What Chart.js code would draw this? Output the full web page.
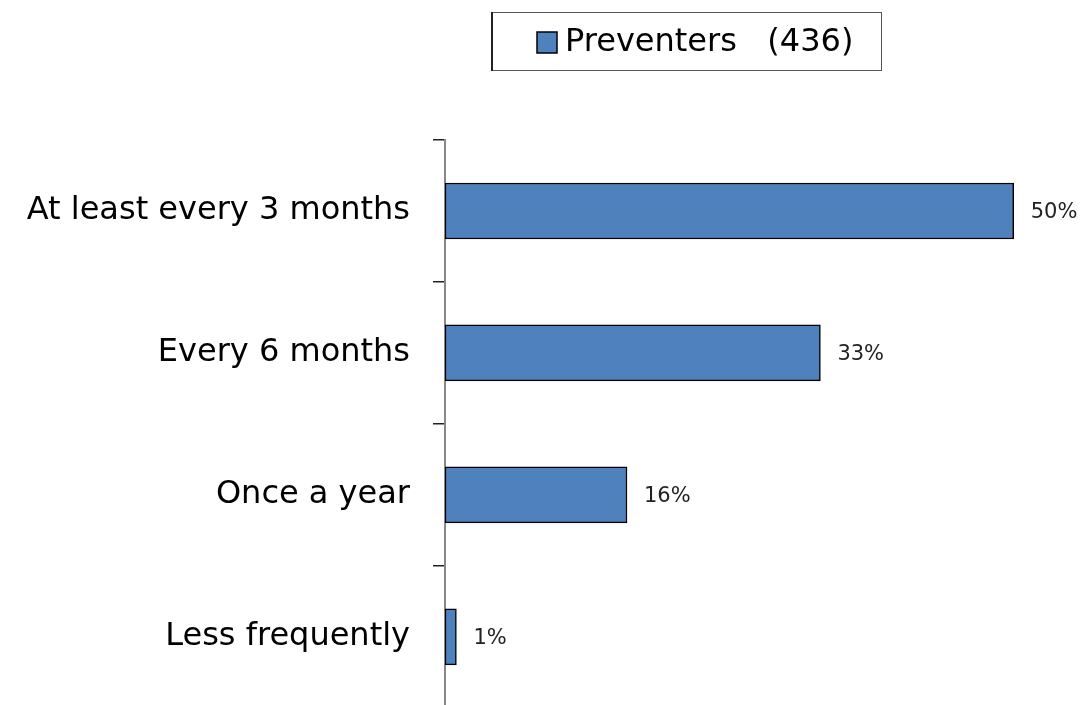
<!DOCTYPE html>
<html>
<head>
<meta charset="utf-8">
<style>
html,body{margin:0;padding:0;background:#fff;overflow:hidden;}
#wrap{width:1082px;height:705px;position:relative;overflow:hidden;}
</style>
<script src="https://cdn.jsdelivr.net/npm/chart.js@4"></script>
</head>
<body>
<div id="wrap"><canvas id="c" width="1082" height="750"></canvas></div>
<script>
const categories = ["At least every 3 months", "Every 6 months", "Once a year", "Less frequently"];
const seriesName = "Preventers   (436)";
const values = [50, 33, 16, 1];
const valueLabels = ["50%", "33%", "16%", "1%"];

const FONT = "'DejaVu Sans', sans-serif";
const BAR_COLOR = "#4F81BD";

const valueLabelPlugin = {
  id: 'valueLabels',
  afterDatasetsDraw(chart) {
    const ctx = chart.ctx;
    const meta = chart.getDatasetMeta(0);
    ctx.save();
    ctx.font = "21px " + FONT;
    ctx.fillStyle = "#222";
    ctx.textAlign = "left";
    ctx.textBaseline = "middle";
    meta.data.forEach((bar, i) => {
      ctx.fillText(valueLabels[i], bar.x + 17, bar.y + 2);
    });
    ctx.restore();
  }
};

const legendBoxPlugin = {
  id: 'legendBox',
  afterDraw(chart) {
    const ctx = chart.ctx;
    const ds = chart.data.datasets[0];
    ctx.save();
    ctx.fillStyle = "#fff";
    ctx.fillRect(491, 12, 391, 59);
    ctx.strokeStyle = "#555";
    ctx.lineWidth = 1;
    ctx.strokeRect(491.5, 12.5, 390, 58);
    ctx.fillStyle = "#222";
    ctx.fillRect(491, 12, 2, 59);
    ctx.fillStyle = ds.backgroundColor;
    ctx.fillRect(537, 32, 20, 21);
    ctx.strokeStyle = "#000";
    ctx.lineWidth = 1.5;
    ctx.strokeRect(537, 32, 20, 21);
    ctx.fillStyle = "#000";
    ctx.font = "32px " + FONT;
    ctx.textAlign = "left";
    ctx.textBaseline = "middle";
    ctx.fillText(ds.label, 565, 43);
    ctx.restore();
  }
};

new Chart(document.getElementById('c'), {
  type: 'bar',
  data: {
    labels: categories,
    datasets: [{
      label: seriesName,
      data: values,
      backgroundColor: BAR_COLOR,
      borderColor: "#000",
      borderWidth: 1.5,
      borderSkipped: false,
      barThickness: 56
    }]
  },
  options: {
    indexAxis: 'y',
    responsive: false,
    animation: false,
    layout: { padding: { top: 140, right: 0, bottom: 0, left: 0 } },
    plugins: {
      legend: { display: false },
      tooltip: { enabled: false }
    },
    scales: {
      x: {
        display: false,
        min: 0,
        max: 56
      },
      y: {
        afterFit(scale) { scale.width = 445; },
        border: { display: true, color: "#888", width: 2 },
        grid: {
          display: true,
          drawOnChartArea: false,
          drawTicks: true,
          tickLength: 12,
          color: "#222",
          lineWidth: 1.5,
          offset: true
        },
        ticks: {
          color: "#000",
          padding: 23,
          font: { family: FONT, size: 32 }
        }
      }
    }
  },
  plugins: [valueLabelPlugin, legendBoxPlugin]
});
</script>
</body>
</html>
